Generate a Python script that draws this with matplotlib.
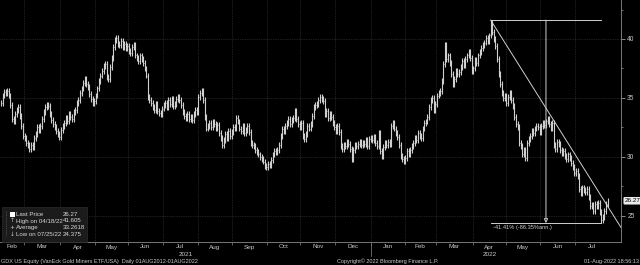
import numpy as np
import pandas as pd
import matplotlib
matplotlib.use('Agg')
import matplotlib.pyplot as plt
from matplotlib.transforms import blended_transform_factory
from matplotlib.patches import Rectangle
from matplotlib.lines import Line2D

plt.rcParams['font.family'] = ['Liberation Sans', 'DejaVu Sans']

# GDX daily closes, one row per trading week (Mon-Fri), 08 Feb 2021 - 29 Jul 2022
weekly_closes = [
    [34.6, 35.2, 35.5, 35.4, 35.6], [35.2, 34.4, 33.2, 33.0, 33.6], [34.0, 34.2, 33.5, 32.6, 31.8],
    [31.6, 31.2, 31.0, 30.7, 31.0], [30.8, 31.6, 31.9, 32.5, 32.3], [32.6, 33.2, 33.8, 34.2, 34.4],
    [34.3, 33.6, 33.1, 32.8, 32.5], [32.2, 31.9, 31.7, 32.3, 32.6], [32.9, 33.3, 33.0, 33.6, 33.4],
    [33.2, 33.8, 34.0, 34.6, 34.8], [35.4, 35.8, 36.3, 36.6, 36.2], [35.9, 35.3, 34.9, 34.6, 34.7],
    [35.2, 35.8, 36.4, 36.9, 37.3], [37.7, 37.9, 36.8, 36.6, 37.6], [38.4, 39.3, 39.9, 40.1, 39.6],
    [39.5, 39.8, 39.3, 39.6, 39.2], [39.4, 39.0, 38.8, 39.3, 39.5], [38.6, 38.4, 38.1, 38.6, 38.3],
    [38.0, 37.5, 36.9, 35.1, 34.8], [34.6, 34.2, 34.0, 34.5, 33.9], [33.7, 33.6, 34.1, 34.4, 34.6],
    [34.2, 34.8, 34.5, 34.9, 34.3], [34.5, 34.9, 35.1, 34.8, 34.4], [33.8, 33.5, 33.3, 33.6, 33.2],
    [33.4, 33.1, 33.6, 34.0, 33.8], [35.1, 35.4, 35.6, 34.8, 33.4], [32.4, 32.6, 32.9, 32.5, 33.0],
    [32.8, 32.4, 32.7, 32.0, 31.6], [31.0, 31.4, 31.9, 31.6, 32.2], [31.8, 32.1, 32.5, 32.4, 33.3],
    [33.0, 32.4, 32.2, 32.6, 32.0], [32.3, 32.6, 32.1, 31.2, 31.0], [30.9, 30.6, 30.4, 30.2, 30.0],
    [29.8, 29.6, 29.2, 29.1, 29.4], [29.3, 29.7, 30.2, 30.5, 30.4], [30.6, 31.0, 31.8, 32.4, 32.2],
    [32.6, 32.9, 33.2, 32.8, 33.1], [33.3, 33.9, 33.2, 32.8, 32.5], [32.9, 31.8, 31.5, 31.9, 32.6],
    [32.4, 32.8, 33.5, 34.2, 34.4], [34.5, 34.8, 35.1, 34.9, 34.7], [33.6, 33.9, 33.3, 33.6, 33.4],
    [32.9, 32.5, 32.2, 32.6, 32.1], [30.9, 30.7, 31.0, 30.9, 31.3], [31.1, 30.7, 29.8, 30.6, 31.0],
    [30.9, 31.1, 31.3, 31.0, 31.2], [31.1, 31.4, 30.9, 31.5, 31.6], [31.4, 31.7, 31.2, 30.9, 32.0],
    [30.5, 30.1, 30.8, 31.2, 31.0], [31.3, 31.1, 32.6, 32.9, 32.4], [32.0, 31.7, 31.0, 30.1, 29.8],
    [29.6, 29.9, 30.5, 30.2, 30.6], [30.9, 31.2, 31.6, 31.4, 32.0], [31.8, 31.6, 32.4, 32.9, 33.0],
    [33.4, 34.2, 34.8, 35.0, 34.0], [34.5, 35.2, 35.4, 35.6, 36.4], [37.9, 39.5, 38.3, 38.6, 38.0],
    [37.0, 36.2, 36.6, 37.3, 37.0], [37.2, 37.6, 38.1, 37.8, 38.3], [38.6, 38.9, 38.4, 37.3, 37.5],
    [38.2, 38.0, 38.6, 38.9, 39.2], [39.5, 39.7, 40.1, 39.8, 40.3], [41.4, 40.6, 40.0, 39.4, 38.3],
    [37.0, 36.2, 35.4, 35.0, 35.2], [34.6, 35.1, 35.4, 34.8, 34.3], [33.4, 32.8, 32.5, 31.2, 30.9],
    [30.2, 30.6, 29.9, 31.2, 31.5], [31.8, 32.2, 32.0, 32.4, 32.6], [32.5, 32.1, 32.6, 32.9, 32.7],
    [33.0, 33.2, 32.8, 32.4, 32.9], [31.0, 30.7, 31.3, 31.1, 30.6], [30.3, 30.5, 30.1, 29.8, 30.2],
    [29.9, 29.5, 29.1, 28.6, 28.8], [28.4, 27.3, 26.9, 27.4, 27.2], [27.0, 27.3, 26.6, 25.8, 25.9],
    [25.4, 26.0, 25.8, 26.1, 25.3], [24.6, 24.9, 25.4, 26.0, 26.27],
]

high_date, high_value = '2022-04-18', 41.605
low_date, low_value = '2022-07-25', 24.375
trend_end_value = 24.0
last_price = 26.27
change_text = '-41.41% (-86.35%ann.)'

legend_labels = ['Last Price', 'High on 04/18/22', 'Average', 'Low on 07/25/22']
legend_values = ['26.27', '41.605', '33.2618', '24.375']
legend_marks = ['', '\u2191', '+', '\u2193']

footer_left = 'GDX US Equity (VanEck Gold Miners ETF/USA)  Daily 01AUG2012-01AUG2022'
footer_mid = 'Copyright\u00a9 2022 Bloomberg Finance L.P.'
footer_right = '01-Aug-2022 18:56:13'

close = np.array(weekly_closes).ravel()
dates = pd.bdate_range('2021-02-08', periods=len(close))
idx = np.arange(len(close))

W, H = 640, 265
fig = plt.figure(figsize=(W / 100, H / 100), dpi=100)
fig.patch.set_facecolor('black')
ax = fig.add_axes([0, 1 - 242 / H, 621 / W, 242 / H])
ax.set_facecolor('black')

def fy(py):
    return 1 - py / H

def fx(px):
    return px / W

xmax = len(close) + 7.5
ax.set_xlim(-0.6, xmax)
ax.set_ylim(22.77, 43.31)

# price bars
prev = np.r_[close[0], close[:-1]]
lo = np.minimum(prev, close) - 0.25
hi = np.maximum(prev, close) + 0.25
ax.vlines(idx, lo, hi, color='#cfcfcf', lw=0.8, zorder=3)
ax.hlines(close, idx, idx + 0.5, color='#cfcfcf', lw=0.6, zorder=3)

# month grid
months = dates.to_period('M')
starts = np.flatnonzero(np.r_[True, months[1:] != months[:-1]])
ends = np.r_[starts[1:], len(close)]
ax.set_xticks(starts[1:] - 0.5)
ax.set_xticklabels([])
ax.tick_params(axis='x', length=2, color='#808080', width=0.5)
ax.yaxis.tick_right()
ax.set_yticks([25, 30, 35, 40])
ax.set_yticks([27.5, 32.5, 37.5, 42.5], minor=True)
ax.tick_params(axis='y', which='major', length=3, color='#a0a0a0', width=0.6,
               labelsize=4.8, labelcolor='#c8c8c8', pad=1.5)
ax.tick_params(axis='y', which='minor', length=1.5, color='#a0a0a0', width=0.5)
ax.grid(True, which='major', color='#404040', ls=(0, (1, 1.5)), lw=0.5)
for s in ['top', 'left']:
    ax.spines[s].set_visible(False)
for s in ['right', 'bottom']:
    ax.spines[s].set_color('#8a8a8a')
    ax.spines[s].set_linewidth(0.6)

tr = blended_transform_factory(ax.transData, fig.transFigure)
for s, e in zip(starts, ends):
    ax.text((s + e - 1) / 2, fy(247), months[s].strftime('%b'), transform=tr,
            ha='center', va='center', fontsize=4.6, color='#c8c8c8', clip_on=False)
years = dates.year
for yr in np.unique(years):
    sel = np.flatnonzero(years == yr)
    ax.text((sel[0] + sel[-1]) / 2, fy(254), str(yr), transform=tr,
            ha='center', va='center', fontsize=4.6, color='#c8c8c8', clip_on=False)
    if sel[0] > 0:
        ax.add_line(Line2D([sel[0] - 0.5] * 2, [fy(244), fy(256)], transform=tr,
                           color='#8a8a8a', lw=0.5, clip_on=False))

# annotations
i_high = dates.get_loc(pd.Timestamp(high_date))
i_low = dates.get_loc(pd.Timestamp(low_date))
i_mid = (i_high + i_low) / 2
acol = '#cfcfcf'
ax.plot([i_high, xmax], [high_value, trend_end_value], color=acol, lw=0.7, zorder=4)
ax.plot([i_high, i_low], [high_value, high_value], color=acol, lw=0.7, zorder=4)
ax.plot([i_high, i_low], [low_value, low_value], color=acol, lw=0.7, zorder=4)
ax.annotate('', xy=(i_mid, low_value), xytext=(i_mid, high_value),
            arrowprops=dict(arrowstyle='-|>', ec=acol, fc='black', lw=0.7,
                            mutation_scale=6, shrinkA=0, shrinkB=0), zorder=4)
ax.text(i_high + 1.5, low_value - 0.15, change_text, ha='left', va='top',
        fontsize=4.1, color='#d0d0d0', zorder=5)

ax.text(1.006, last_price, '%.2f' % last_price, transform=ax.get_yaxis_transform(),
        ha='left', va='center', fontsize=4.6, color='black', clip_on=False,
        bbox=dict(boxstyle='round,pad=0.2', fc='#ececec', ec='none'))

# legend box
fig.patches.append(Rectangle((fx(2), fy(242)), fx(85), 35 / H, transform=fig.transFigure,
                             fc='#1b1b1b', ec='#2c2c2c', lw=0.5, zorder=6))
rows = [214.5, 221, 227.5, 234]
fig.add_artist(Line2D([fx(6), fx(6)], [fy(211), fy(236)], color='#707070', lw=0.5, ls=':', zorder=7))
for r, lab, val, mk in zip(rows, legend_labels, legend_values, legend_marks):
    if mk:
        fig.text(fx(12), fy(r), mk, ha='center', va='center', fontsize=4.2,
                 color='#c8c8c8', zorder=8, family=['DejaVu Sans'])
    else:
        fig.patches.append(Rectangle((fx(9.5), fy(r + 2.5)), fx(5), 5 / H,
                                     transform=fig.transFigure, fc='white', ec='none', zorder=8))
    fig.text(fx(16), fy(r), lab, ha='left', va='center', fontsize=4.4, color='#d8d8d8', zorder=8)
    fig.text(fx(63), fy(r), val, ha='left', va='center', fontsize=4.4, color='#d8d8d8', zorder=8)

# footer
fig.text(fx(1), fy(261), footer_left, ha='left', va='center', fontsize=4, color='#c8c8c8')
fig.text(fx(337), fy(261), footer_mid, ha='left', va='center', fontsize=4, color='#c8c8c8')
fig.text(fx(639), fy(261), footer_right, ha='right', va='center', fontsize=4, color='#c8c8c8')

fig.savefig('out.png', dpi=100, facecolor='black')
